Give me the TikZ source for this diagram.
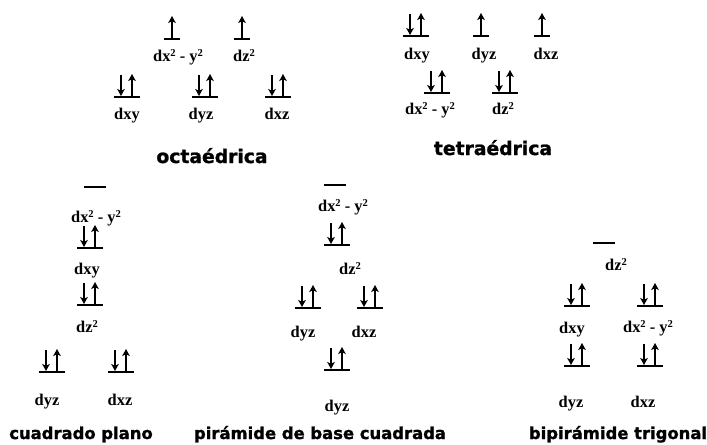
\documentclass[tikz,border=0pt]{standalone}
\usepackage{fontspec}
\setmainfont{Liberation Serif}
\newfontfamily\titlefont{DejaVu Sans}[BoldFeatures={FakeBold=1.2}]
\usetikzlibrary{arrows.meta}
\newcommand\sqd{\raisebox{0.55ex}{\fontsize{9}{9}\selectfont 2}}

\begin{document}
\begin{tikzpicture}[x=0.03cm, y=-0.03cm,
  orb/.style={font=\bfseries\fontsize{14}{15}\selectfont, inner sep=0pt, anchor=base},
  geom/.style={font=\titlefont\bfseries\fontsize{14}{16}\selectfont, inner sep=0pt, anchor=base},
  geombig/.style={geom, font=\titlefont\bfseries\fontsize{16}{18}\selectfont},
  level/.style={line width=1.1pt},
  spin/.style={line width=1.2pt, -{Stealth[length=6pt,width=6.5pt,inset=1.5pt]}},
  par/.pic={
    \draw[level] (-13,0) -- (13,0);
    \draw[spin] (-6,-22) -- (-6,-1);
    \draw[spin] (5,-1) -- (5,-23);
  },
  uno/.pic={
    \draw[level] (-8,0) -- (8,0);
    \draw[spin] (0,-1) -- (0,-23);
  },
  vacio/.pic={
    \draw[level] (-11,0) -- (11,0);
  }
]
  \useasboundingbox (0,0) rectangle (707,444);

  % octaedrica
  \pic at (172,39) {uno};
  \pic at (242,39) {uno};
  \pic at (127,97) {par};
  \pic at (205,97) {par};
  \pic at (278,97) {par};
  \node[orb] (oxy2) at (178,61) {dx\sqd{} - y\sqd};
  \node[orb] (oz2)  at (244,61) {dz\sqd};
  \node[orb] (oxy)  at (127,119) {dxy};
  \node[orb] (oyz)  at (201,119) {dyz};
  \node[orb] (oxz)  at (277,119) {dxz};
  \node[geombig] (oct) at (212,163) {octaédrica};

  % tetraedrica
  \pic at (416,36) {par};
  \pic at (481,36) {uno};
  \pic at (542,36) {uno};
  \pic at (437,93) {par};
  \pic at (505,93) {par};
  \node[orb] (txy)  at (417,59) {dxy};
  \node[orb] (tyz)  at (484,59) {dyz};
  \node[orb] (txz)  at (546,59) {dxz};
  \node[orb] (txy2) at (430,114) {dx\sqd{} - y\sqd};
  \node[orb] (tz2)  at (503,114) {dz\sqd};
  \node[geombig] (tet) at (493,155) {tetraédrica};

  % cuadrado plano
  \pic at (95,187) {vacio};
  \pic at (90,248) {par};
  \pic at (90,305) {par};
  \pic at (52,372) {par};
  \pic at (121,372) {par};
  \node[orb] (cxy2) at (96,222) {dx\sqd{} - y\sqd};
  \node[orb] (cxy)  at (87,274) {dxy};
  \node[orb] (cz2)  at (87,332) {dz\sqd};
  \node[orb] (cyz)  at (47,405) {dyz};
  \node[orb] (cxz)  at (120,405) {dxz};
  \node[geom] (cua) at (81,439) {cuadrado plano};

  % piramide de base cuadrada
  \pic at (335,185) {vacio};
  \pic at (337,245) {par};
  \pic at (308,308) {par};
  \pic at (370,308) {par};
  \pic at (337,370) {par};
  \node[orb] (pxy2) at (343,211) {dx\sqd{} - y\sqd};
  \node[orb] (pz2)  at (350,274) {dz\sqd};
  \node[orb] (pyz)  at (303,337) {dyz};
  \node[orb] (pxz)  at (364,337) {dxz};
  \node[orb] (pyz2) at (337,411) {dyz};
  \node[geom] (pir) at (320,439) {pirámide de base cuadrada};

  % bipiramide trigonal
  \pic at (604,243) {vacio};
  \pic at (577,306) {par};
  \pic at (650,306) {par};
  \pic at (577,366) {par};
  \pic at (650,366) {par};
  \node[orb] (bz2)  at (616,270) {dz\sqd};
  \node[orb] (bxy)  at (572,333) {dxy};
  \node[orb] (bxy2) at (648,332) {dx\sqd{} - y\sqd};
  \node[orb] (byz)  at (571,407) {dyz};
  \node[orb] (bxz)  at (643,407) {dxz};
  \node[geom] (bip) at (618,439) {bipirámide trigonal};
\end{tikzpicture}
\end{document}
